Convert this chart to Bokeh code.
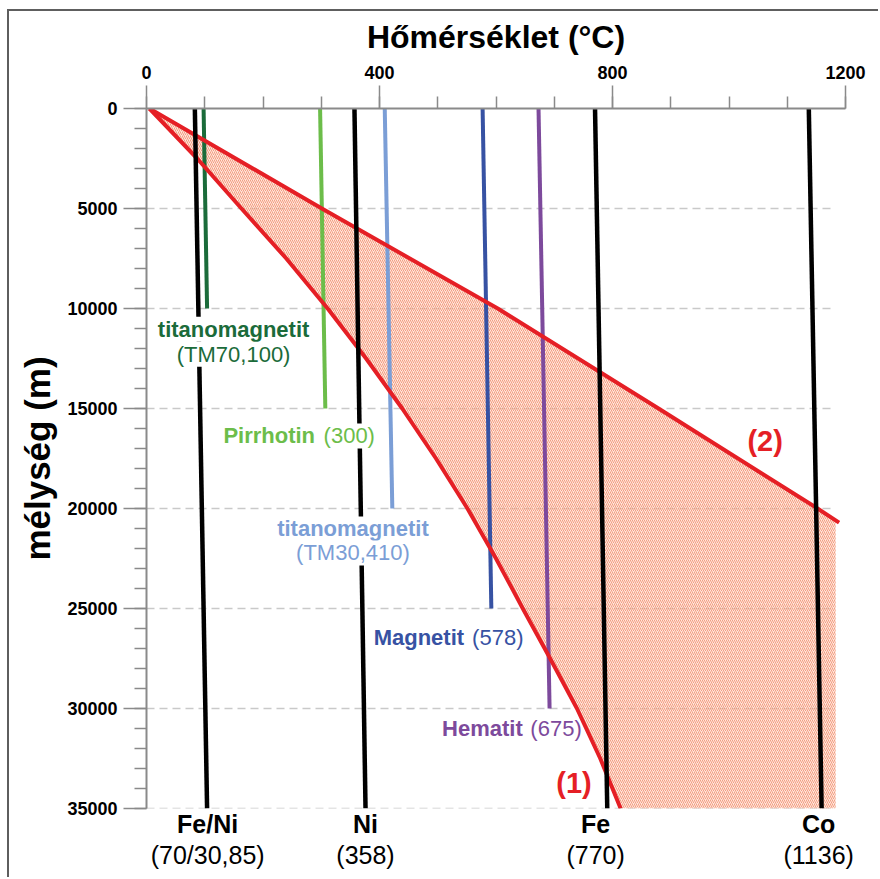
import numpy as np
from bokeh.plotting import figure
from bokeh.models import Range1d, FixedTicker, Label, ColumnDataSource, LinearAxis
from bokeh.embed import file_html
from bokeh.resources import INLINE

# ---------------- data ----------------
temp_ticks = [0, 400, 800, 1200]
temp_minor_ticks = list(range(0, 1201, 100))
depth_ticks = list(range(0, 35001, 5000))
depth_minor_ticks = list(range(0, 35001, 1000))

# Curie temperature lines of metals (black): T at surface, T at 35 km
metal_names = ["Fe/Ni", "Ni", "Fe", "Co"]
metal_values = ["(70/30,85)", "(358)", "(770)", "(1136)"]
metal_t_top = [83, 357, 770, 1137]
metal_t_bottom = [104, 376, 791, 1159]
metal_depth_end = [35000, 35000, 35000, 35000]
metal_label_t = [105, 376, 771, 1154]

# Curie temperature lines of minerals (coloured)
mineral_names = ["titanomagnetit", "Pirrhotin", "titanomagnetit", "Magnetit", "Hematit"]
mineral_values = ["(TM70,100)", "(300)", "(TM30,410)", "(578)", "(675)"]
mineral_t_top = [98, 298, 409, 577, 673]
mineral_t_bottom = [104, 307, 422, 592, 692]
mineral_depth_end = [10000, 15000, 20000, 25000, 30000]
mineral_colors = ["#1b6b3a", "#6cbd4a", "#7b9ed6", "#3752a3", "#7d4a9c"]

# Geotherms
geotherm1_depth = [0, 2500, 5000, 7500, 10000, 12500, 15000, 17500, 20000,
                   22500, 25000, 27500, 30000, 32500, 35000]
geotherm1_t = [5, 87, 163, 240, 311, 377, 439, 497, 551, 600, 646, 693, 739, 779, 814]
geotherm2_depth = [0, 5000, 10000, 15000, 20000, 20710]
geotherm2_t = [5, 301, 603, 879, 1152, 1189]
fill_t_edge = 1183

RED = "#e51f25"
FONT = "Liberation Sans"

# ---------------- figure ----------------
p = figure(width=871, height=868,
           x_range=Range1d(0, 1200), y_range=Range1d(35000.5, 0),
           x_axis_location="above",
           output_backend="svg", toolbar_location=None,
           min_border_left=137, min_border_right=35,
           min_border_top=97, min_border_bottom=71)
p.margin = (9, 0, 0, 7)
p.styles = {"border-top": "2px solid #5e5e5e", "border-left": "2px solid #5e5e5e"}
p.outline_line_color = None
p.background_fill_color = "white"
p.border_fill_color = "white"

axis_gray = "#8a8a8a"
for ax in (p.xaxis[0], p.yaxis[0]):
    ax.axis_line_color = axis_gray
    ax.axis_line_width = 2
    ax.major_tick_line_color = axis_gray
    ax.major_tick_line_width = 1.5
    ax.minor_tick_line_color = axis_gray
    ax.minor_tick_line_width = 1.5
    ax.major_tick_in = 0
    ax.major_tick_out = 23
    ax.minor_tick_in = 0
    ax.minor_tick_out = 12
    ax.major_label_text_font = FONT
    ax.major_label_text_font_style = "bold"
    ax.major_label_text_font_size = "18px"
    ax.major_label_text_color = "black"
    ax.axis_label_text_font = FONT
    ax.axis_label_text_font_style = "bold"
    ax.axis_label_text_color = "black"

xax = p.xaxis[0]
xax.ticker = FixedTicker(ticks=temp_ticks, minor_ticks=temp_minor_ticks)
xax.axis_label = "Hőmérséklet (°C)"
xax.axis_label_text_font_size = "32px"
xax.major_label_standoff = 7
xax.axis_label_standoff = 8

yax = p.yaxis[0]
yax.ticker = FixedTicker(ticks=depth_ticks, minor_ticks=depth_minor_ticks)
yax.axis_label = "mélység (m)"
yax.axis_label_text_font_size = "35px"
yax.major_label_standoff = 6
yax.axis_label_standoff = 7

p.xgrid.visible = False
p.ygrid.grid_line_color = "#c9c9c9"
p.ygrid.grid_line_width = 1.5
p.ygrid.grid_line_dash = "8 5"
p.ygrid.cross_bounds = (0, fill_t_edge)

# metal names and Curie temperatures under the plot (label-only axes)
for labels, style, standoff in ((metal_names, "bold", 1), (metal_values, "normal", 0)):
    lab_axis = LinearAxis(ticker=FixedTicker(ticks=metal_label_t),
                          major_label_overrides={t: s for t, s in zip(metal_label_t, labels)})
    lab_axis.axis_line_color = None
    lab_axis.major_tick_line_color = None
    lab_axis.minor_tick_line_color = None
    lab_axis.major_tick_out = 0
    lab_axis.major_tick_in = 0
    lab_axis.minor_tick_out = 0
    lab_axis.minor_tick_in = 0
    lab_axis.major_label_standoff = standoff
    lab_axis.major_label_text_font = FONT
    lab_axis.major_label_text_font_size = "25px"
    lab_axis.major_label_text_font_style = style
    lab_axis.major_label_text_color = "black"
    p.add_layout(lab_axis, "below")

# hatched region between the two geotherms
d_edge = float(np.interp(fill_t_edge, geotherm2_t, geotherm2_depth))
fx = [t for t in geotherm2_t if t < fill_t_edge] + [fill_t_edge, fill_t_edge] + geotherm1_t[::-1]
fy = [d for d, t in zip(geotherm2_depth, geotherm2_t) if t < fill_t_edge] + [d_edge, max(geotherm1_depth)] + geotherm1_depth[::-1]
p.patch(fx, fy, fill_color="#fcd3c0", fill_alpha=0.55, line_color=None,
        hatch_pattern="/", hatch_color="#ef6a44", hatch_alpha=0.6,
        hatch_scale=4, hatch_weight=1)

# mineral lines
msrc = ColumnDataSource(dict(x0=mineral_t_top, y0=[0] * len(mineral_t_top),
                             x1=mineral_t_bottom, y1=mineral_depth_end, c=mineral_colors))
p.segment("x0", "y0", "x1", "y1", source=msrc, line_color="c", line_width=4)

# geotherms
p.line(geotherm1_t, geotherm1_depth, line_color=RED, line_width=4, line_join="round")
p.line(geotherm2_t, geotherm2_depth, line_color=RED, line_width=4, line_join="round")

# metal lines
bsrc = ColumnDataSource(dict(x0=metal_t_top, y0=[0] * len(metal_t_top),
                             x1=metal_t_bottom, y1=metal_depth_end))
p.segment("x0", "y0", "x1", "y1", source=bsrc, line_color="black", line_width=4.5)


def add_label(x, y, text, color, bold, size="22px", align="left", bg=None):
    lab = Label(x=x, y=y, text=text, text_color=color, text_font=FONT,
                text_font_size=size, text_font_style="bold" if bold else "normal",
                text_align=align, text_baseline="middle")
    if bg is not None:
        lab.background_fill_color = bg
    p.add_layout(lab)


# mineral labels
add_label(149.5, 11040, mineral_names[0], mineral_colors[0], True, align="center", bg="white")
add_label(149.5, 12290, mineral_values[0], mineral_colors[0], False, align="center", bg="white")
add_label(132, 16375, mineral_names[1], mineral_colors[1], True)
add_label(304, 16375, mineral_values[1], mineral_colors[1], False, bg="white")
add_label(354.4, 21025, mineral_names[2], mineral_colors[2], True, align="center", bg="white")
add_label(354.4, 22225, mineral_values[2], mineral_colors[2], False, align="center", bg="white")
add_label(390, 26475, mineral_names[3], mineral_colors[3], True)
add_label(559, 26475, mineral_values[3], mineral_colors[3], False)
add_label(507.5, 31025, mineral_names[4], mineral_colors[4], True)
add_label(659, 31025, mineral_values[4], mineral_colors[4], False)

# geotherm labels
add_label(734, 33710, "(1)", RED, True, size="29px", align="center")
add_label(1062, 16625, "(2)", RED, True, size="29px", align="center")

open("out.html", "w").write(file_html(p, INLINE))
